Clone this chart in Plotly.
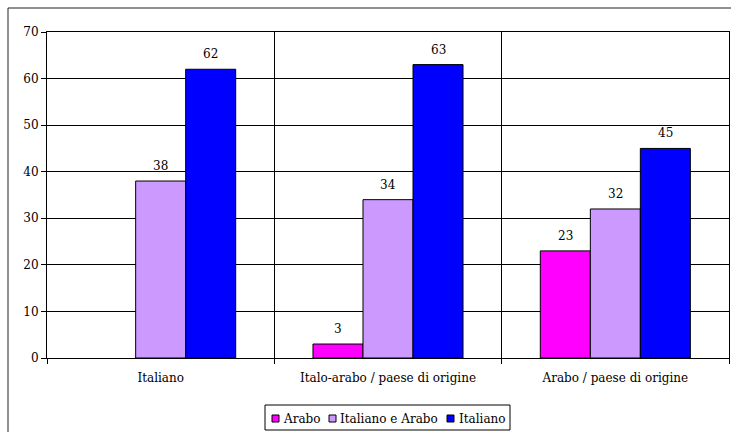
import plotly.graph_objects as go

# Survey data: language used, by group
categories = ["Italiano", "Italo-arabo / paese di origine", "Arabo / paese di origine"]
series_names = ["Arabo", "Italiano e Arabo", "Italiano"]
arabo = [None, 3, 23]
italiano_e_arabo = [38, 34, 32]
italiano = [62, 63, 45]

colors = ["#FF00FF", "#CC99FF", "#0000FF"]
FONT = "DejaVu Serif"
FS = 12

W, H = 731, 432
ML, MR, MT, MB = 47, 2, 32, 74
PW, PH = W - ML - MR, H - MT - MB


def px_x(x):
    """Pixel column -> paper x."""
    return (x - ML) / PW


def px_y(y):
    """Pixel row -> paper y."""
    return (H - MB - y) / PH


fig = go.Figure()
all_series = [arabo, italiano_e_arabo, italiano]
for name, vals, col in zip(series_names, all_series, colors):
    fig.add_trace(go.Bar(
        x=categories, y=vals, name=name,
        marker=dict(color=col, line=dict(color="black", width=1)),
    ))

# value labels above each bar
BARGAP = 0.34
bar_px = PW / len(categories) * (1 - BARGAP) / len(all_series)
for i, vals in enumerate(all_series):
    for cat, v in zip(categories, vals):
        if v is None:
            continue
        fig.add_annotation(
            x=cat, y=v, xref="x", yref="y", text=str(v), showarrow=False,
            xshift=(i - 1) * bar_px, yshift=6, yanchor="bottom",
            font=dict(family=FONT, size=FS, color="black"),
        )

# outer frame around the chart
fig.add_shape(type="rect", xref="paper", yref="paper",
              x0=px_x(8), x1=px_x(745), y0=px_y(450), y1=px_y(8),
              line=dict(color="#222", width=1), fillcolor="rgba(0,0,0,0)")

# legend box with swatches
fig.add_shape(type="rect", xref="paper", yref="paper",
              x0=px_x(265), x1=px_x(510), y0=px_y(430), y1=px_y(405),
              line=dict(color="black", width=1), fillcolor="white")
swatch_x = [272, 329, 447]
label_x = [282, 339, 458]
for name, col, sx, tx in zip(series_names, colors, swatch_x, label_x):
    fig.add_shape(type="rect", xref="paper", yref="paper",
                  x0=px_x(sx), x1=px_x(sx + 7), y0=px_y(422), y1=px_y(415),
                  line=dict(color="black", width=1), fillcolor=col)
    fig.add_annotation(x=px_x(tx), y=px_y(418.5), xref="paper", yref="paper",
                       text=name, showarrow=False, xanchor="left", yanchor="middle",
                       xshift=-1, font=dict(family=FONT, size=FS, color="black"))

fig.update_layout(
    width=W, height=H,
    margin=dict(l=ML, r=MR, t=MT, b=MB),
    paper_bgcolor="white", plot_bgcolor="white",
    barmode="group", bargap=BARGAP, bargroupgap=0,
    font=dict(family=FONT, size=FS, color="black"),
    showlegend=False,
    xaxis=dict(
        type="category", tickson="boundaries",
        showgrid=True, gridcolor="black", gridwidth=1,
        ticks="outside", ticklen=5, tickcolor="black",
        ticklabelstandoff=9,
        showline=True, linecolor="black", linewidth=1, mirror=True,
        tickfont=dict(family=FONT, size=FS),
    ),
    yaxis=dict(
        range=[0, 70], dtick=10,
        showgrid=True, gridcolor="black", gridwidth=1,
        ticks="outside", ticklen=5, tickcolor="black",
        showline=True, linecolor="black", linewidth=1, mirror=True,
        zeroline=False,
        tickfont=dict(family=FONT, size=FS),
    ),
)

fig.write_html("out.html")
